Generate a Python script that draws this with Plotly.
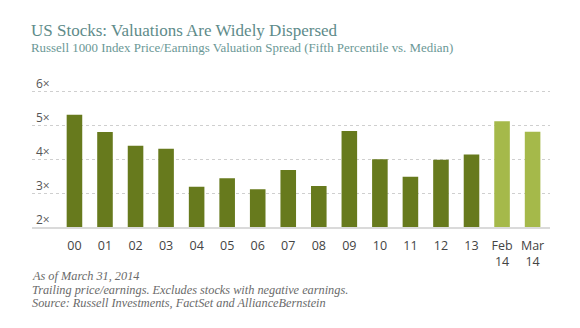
import plotly.graph_objects as go

categories = ["00", "01", "02", "03", "04", "05", "06", "07", "08", "09",
              "10", "11", "12", "13", "Feb<br>14", "Mar<br>14"]
values = [5.31, 4.80, 4.40, 4.31, 3.19, 3.44, 3.11, 3.68, 3.21, 4.83,
          4.00, 3.48, 3.98, 4.14, 5.12, 4.81]
is_recent = [False] * 14 + [True, True]
y_ticks = [2, 3, 4, 5, 6]
y_tick_labels = ["2×", "3×", "4×", "5×", "6×"]

title = "US Stocks: Valuations Are Widely Dispersed"
subtitle = "Russell 1000 Index Price/Earnings Valuation Spread (Fifth Percentile vs. Median)"
notes = ["As of March 31, 2014",
         "Trailing price/earnings. Excludes stocks with negative earnings.",
         "Source: Russell Investments, FactSet and AllianceBernstein"]

DARK = "#677a1d"
LIGHT = "#a5b94a"
colors = [LIGHT if r else DARK for r in is_recent]

W, H = 580, 328
L, R_ = 32, 550
T, B = 88.3, 226.7

fig = go.Figure(go.Bar(
    x=list(range(len(categories))), y=values,
    marker=dict(color=colors, line=dict(width=0)),
    width=0.51, base=0,
))

fig.update_layout(
    width=W, height=H,
    margin=dict(l=L, r=W - R_, t=T, b=H - B, pad=0),
    paper_bgcolor="white", plot_bgcolor="white",
    showlegend=False,
    xaxis=dict(
        range=[-1.39, 15.57],
        tickmode="array", tickvals=list(range(len(categories))), ticktext=categories,
        showgrid=False, zeroline=False,
        showline=True, linecolor="#dadada", linewidth=1.5,
        ticks="", ticklabelstandoff=6,
        tickfont=dict(family="Open Sans, sans-serif", size=12.5, color="#444444"),
    ),
    yaxis=dict(
        range=[2, 6.1],
        tickmode="array", tickvals=y_ticks,
        showticklabels=False,
        showgrid=True, gridcolor="#cfcfcf", griddash="dot", gridwidth=1,
        zeroline=False, showline=False, ticks="",
    ),
)

def py(p):
    return (B - p) / (B - T)

def px(p):
    return (p - L) / (R_ - L)

# y-axis labels sitting above each gridline
for v, lab in zip(y_ticks, y_tick_labels):
    fig.add_annotation(text=lab, xref="paper", yref="y", x=px(34), y=v,
                       xanchor="left", yanchor="bottom", showarrow=False, yshift=-2.5,
                       font=dict(family="Open Sans, sans-serif", size=12, color="#555555"))

fig.add_annotation(text=title, xref="paper", yref="paper", x=px(29), y=py(31.5),
                   xanchor="left", yanchor="middle", showarrow=False,
                   font=dict(family="Liberation Serif, serif", size=17, color="#5e8b8a"))
fig.add_annotation(text=subtitle, xref="paper", yref="paper", x=px(29), y=py(48),
                   xanchor="left", yanchor="middle", showarrow=False,
                   font=dict(family="Liberation Serif, serif", size=12.9, color="#6b9896"))
for note, yy in zip(notes, [275, 289, 302.5]):
    fig.add_annotation(text=f"<i>{note}</i>", xref="paper", yref="paper", x=px(30), y=py(yy),
                       xanchor="left", yanchor="middle", showarrow=False,
                       font=dict(family="Liberation Serif, serif", size=12.3, color="#6a6a6a"))

fig.write_html("out.html")
